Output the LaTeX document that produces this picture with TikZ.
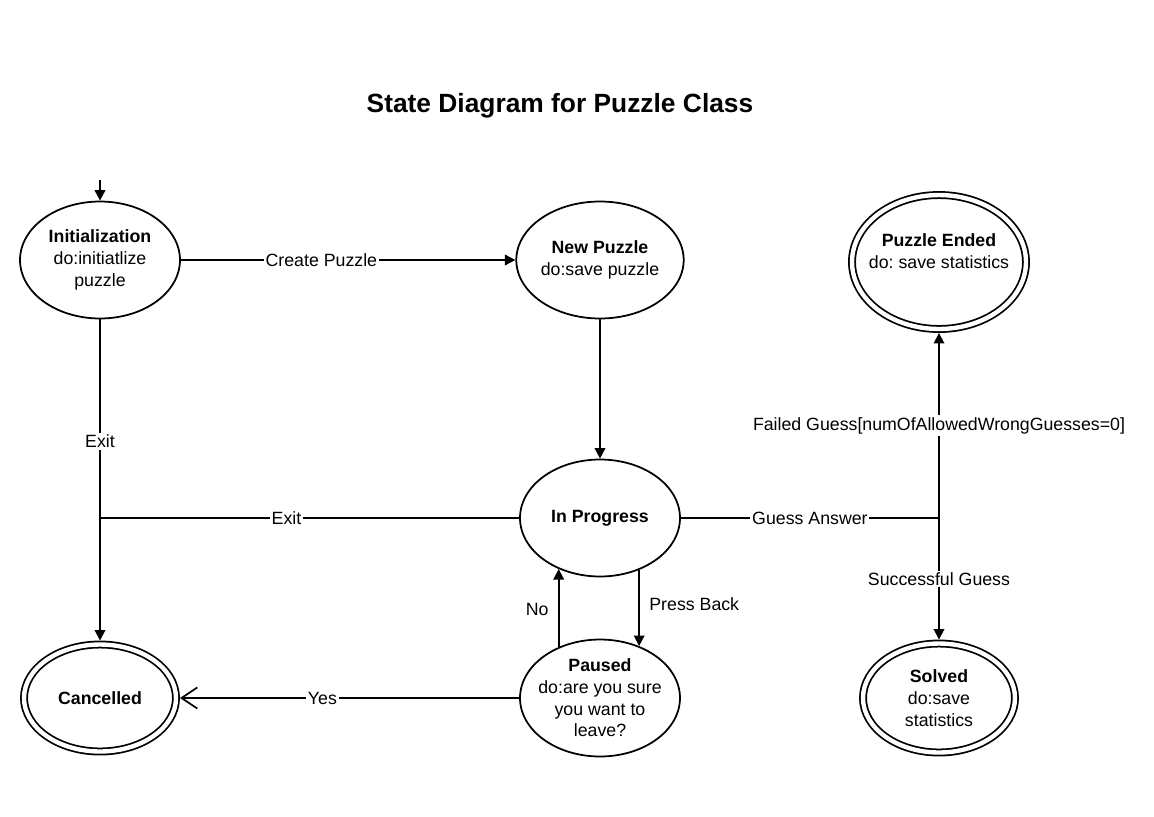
\documentclass[tikz,border=0pt]{standalone}
\usepackage{fontspec}
\setmainfont{Liberation Sans}
\usetikzlibrary{shapes.geometric,arrows.meta}

\tikzset{
  state/.style={ellipse,draw,line width=1pt,inner sep=0pt,align=center,
    minimum width=3.2cm,minimum height=2.34cm},
  endstate/.style={state,double,double distance=2.5pt,outer sep=2.25pt},
  lbl/.style={fill=white,inner sep=1pt}
}

\begin{document}
\frenchspacing
\begin{tikzpicture}[x=0.02cm,y=-0.02cm,
    font=\fontsize{10.1}{12.35}\selectfont]
  \useasboundingbox (0,0) rectangle (1154,816);

  \node (title) at (560,106) {\fontsize{15}{18}\selectfont\bfseries State Diagram for Puzzle Class};

	\begin{scope}
    \node[state] (init) at (100,260) {\textbf{Initialization}\\do:initiatlize\\puzzle};
    \node[state] (newpuzzle) at (600,260) {\textbf{New Puzzle}\\do:save puzzle};
    \node[state] (progress) at (600,518) {\textbf{In Progress}};
    \node[state,inner xsep=-7pt] (paused) at (600,698) {\textbf{Paused}\\do:are you sure\\you want to\\leave?};
    \node[endstate,minimum width=3.04cm,minimum height=2.14cm] (cancelled) at (100,698) {\textbf{Cancelled}};
    \node[endstate,inner xsep=-6pt,minimum width=3.48cm,minimum height=2.68cm] (ended) at (939,262) {\textbf{Puzzle Ended}\\do: save statistics\\ \mbox{}};
    \node[endstate,minimum width=3.04cm,minimum height=2.18cm] (solved) at (939,698) {\textbf{Solved}\\do:save\\statistics};
    \coordinate (start) at (100,180);
    \coordinate (exitjoin) at (100,518);
    \coordinate (guessjoin) at (939,518);
	\end{scope}

	\begin{scope}[>={Triangle[length=6pt,width=6pt]},
              every edge/.style={draw,line width=1pt}]
    \path [->] (start) edge (init.north);
    \path [->] (init) edge node[lbl,pos=0.42] {Create Puzzle} (newpuzzle);
    \path [->] (init) edge node[lbl,pos=0.38] {Exit} (cancelled);
    \path (progress) edge node[lbl,pos=0.555] {Exit} (exitjoin);
    \path [->] (newpuzzle) edge (progress);
    \path (progress) edge node[lbl] {Guess Answer} (guessjoin);
    \path [->] (guessjoin) edge node[lbl] {Failed Guess[numOfAllowedWrongGuesses=0]} (ended);
    \path [->] (guessjoin) edge node[lbl] {Successful Guess} (solved);
    \path [->] (progress.-53) edge node[right,pos=0.45,xshift=2pt] {Press Back} (paused.53);
    \path [->] (paused.129) edge node[left,pos=0.48,xshift=-2pt] {No} (progress.231);
    \path [->, >={Straight Barb[length=9pt,width=12pt]}] (paused) edge node[lbl,pos=0.58] {Yes} (cancelled);
\end{scope}
\end{tikzpicture}
\end{document}
